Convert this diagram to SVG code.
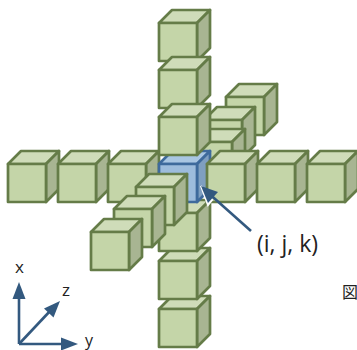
<svg xmlns="http://www.w3.org/2000/svg" width="357" height="350" viewBox="0 0 357 350">
<style>
.g{--f:#c4d5a8;--t:#cfdcb9;--s:#a8b592;--k:#657c48}
.b{--f:#9dbcdc;--t:#a9c6e2;--s:#7f9fc0;--k:#3e6a9c}
.f{fill:var(--f)}.t{fill:var(--t)}.s{fill:var(--s)}
.f,.t,.s{stroke:var(--k);stroke-width:2.7;stroke-linejoin:round}
.l{stroke:#33597f;stroke-width:2.6;fill:none}
.h{fill:#33597f}
text{font-family:"Open Sans","Liberation Sans",sans-serif;fill:#222}
</style>
<defs>
<g id="c">
<path class="t" d="M0 0L13-13H51L38 0Z"/>
<path class="s" d="M38 0L51-13V25L38 38Z"/>
<path class="f" d="M0 0H38V38H0Z"/>
</g>
</defs>
<g id="z-back-1" class="g"><use href="#c" x="226" y="97"/></g>
<g id="z-back-2" class="g"><use href="#c" x="204" y="120"/></g>
<g id="z-back-3" class="g"><use href="#c" x="194" y="142"/></g>
<g id="x-top-1" class="g"><use href="#c" x="159" y="23"/></g>
<g id="x-top-2" class="g"><use href="#c" x="159" y="70"/></g>
<g id="y-left-1" class="g"><use href="#c" x="8" y="164"/></g>
<g id="y-left-2" class="g"><use href="#c" x="58" y="164"/></g>
<g id="y-left-3" class="g"><use href="#c" x="108" y="164"/></g>
<g id="x-bottom-3" class="g"><use href="#c" x="159" y="309"/></g>
<g id="x-bottom-2" class="g"><use href="#c" x="159" y="261"/></g>
<g id="x-bottom-1" class="g"><use href="#c" x="159" y="213"/></g>
<g id="center" class="b"><use href="#c" x="159" y="164"/></g>
<g id="x-top-3" class="g"><use href="#c" x="159" y="117"/></g>
<g id="y-right-1" class="g"><use href="#c" x="207" y="164"/></g>
<g id="y-right-2" class="g"><use href="#c" x="257" y="164"/></g>
<g id="y-right-3" class="g"><use href="#c" x="307" y="164"/></g>
<g id="z-front-1" class="g"><use href="#c" x="136" y="187"/></g>
<g id="z-front-2" class="g"><use href="#c" x="114" y="209"/></g>
<g id="z-front-3" class="g"><use href="#c" x="91" y="232"/></g>
<g id="connectors">
<path d="M201 186L208 205L212 200Z" fill="#fff" stroke="#fff" stroke-width="2"/>
<path class="l" d="M251 231L210 194.500"/>
<path class="h" d="M201 186L218 192L208 203Z"/>
<path class="l" d="M19 344V295"/>
<path class="h" d="M19 282L25.500 299H12.500Z"/>
<path class="l" d="M19 344H65"/>
<path class="h" d="M78 344L61 350.500V337.500Z"/>
<path class="l" d="M19 344L51 310"/>
<path class="h" d="M60 301L53.500 317.500L44 308.500Z"/>
</g>
<text x="257" y="252" font-size="23">(i, j, k)</text>
<text x="15" y="273" font-size="17">x</text>
<text x="62" y="296" font-size="17">z</text>
<text x="85" y="346" font-size="16">y</text>
<text x="342" y="298" font-size="16" style="font-family:'Noto Sans CJK JP',sans-serif">図</text>
</svg>
